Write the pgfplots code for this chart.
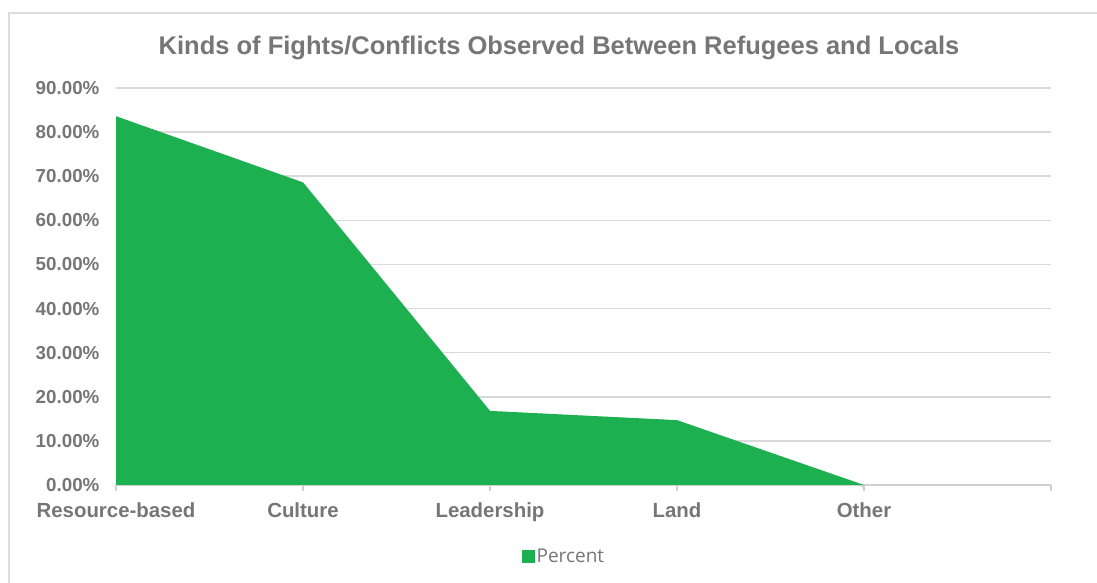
\documentclass[border=0pt]{standalone}
\usepackage{fontspec}
\setmainfont{Liberation Sans}
\newfontfamily\legfont{Open Sans}
\usepackage{pgfplots}
\pgfplotsset{compat=1.18}
\definecolor{areagreen}{RGB}{29,176,81}
\definecolor{txtgray}{RGB}{118,118,118}
\definecolor{gridgray}{RGB}{217,217,217}
\definecolor{axisgray}{RGB}{208,208,208}
\definecolor{framegray}{RGB}{220,220,220}
\begin{document}
\begin{tikzpicture}
\useasboundingbox (0pt,0pt) rectangle (1097pt,583pt);
\fill[white] (0pt,0pt) rectangle (1097pt,583pt);
\draw[framegray, line width=2.5pt] (9pt,0pt) -- (9pt,570pt) -- (1097pt,570pt);
\node[txtgray, font=\fontsize{25.5}{28}\bfseries\selectfont] at (559pt,535pt) {Kinds of Fights/Conflicts Observed Between Refugees and Locals};
\begin{axis}[
  at={(116pt,98pt)}, anchor=south west, scale only axis,
  width=935pt, height=397pt,
  xmin=0, xmax=5, ymin=0, ymax=90,
  axis lines*=left,
  y axis line style={draw=none},
  x axis line style={draw=axisgray, line width=2pt, -},
  ymajorgrids, grid style={draw=gridgray, line width=1.5pt},
  ytick={0,10,...,90},
  ytick style={draw=none},
  xtick={0,1,2,3,4,5},
  xticklabels={Resource-based,Culture,Leadership,Land,Other,{}},
  tick align=outside,
  xtick style={draw=axisgray, line width=1.5pt},
  major tick length=6pt,
  yticklabel={\pgfmathprintnumber[fixed,fixed zerofill,precision=2,assume math mode=true]{\tick}\%},
  yticklabel style={font=\fontsize{18.8}{20}\bfseries\selectfont, text=txtgray, xshift=-7pt},
  xticklabel style={font=\fontsize{20.4}{22}\bfseries\selectfont, text=txtgray, yshift=-8pt},
  legend style={at={(0.479,-0.181)}, anchor=center, draw=none, fill=none,
    font=\legfont\fontsize{19}{22}\selectfont, text=txtgray},
  legend image code/.code={\fill[areagreen] (-3pt,-6.5pt) rectangle (10pt,6.5pt);},
  clip=false,
]
\addplot[draw=black!22, line width=2.5pt, yshift=-1.5pt, opacity=0.6, forget plot]
  coordinates {(0,83.6) (1,68.6) (2,16.8) (3,14.7) (4,0)};
\addplot[fill=areagreen, draw=none] coordinates {(0,83.6) (1,68.6) (2,16.8) (3,14.7) (4,0)} \closedcycle;
\addlegendentry{Percent}
\end{axis}
\end{tikzpicture}
\end{document}
